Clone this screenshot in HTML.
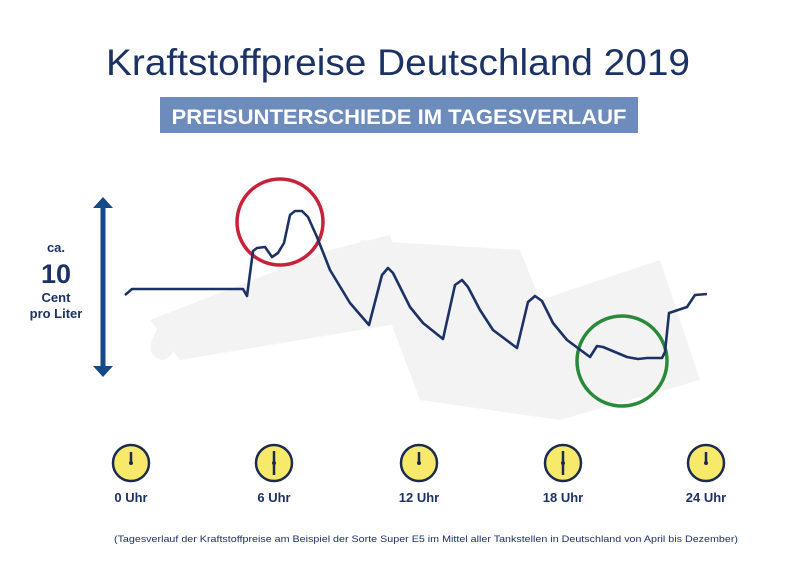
<!DOCTYPE html>
<html><head><meta charset="utf-8"><style>
html,body{margin:0;padding:0;background:#fff;}
svg{display:block;font-family:"Liberation Sans",sans-serif;}
</style></head><body>
<svg width="800" height="566" viewBox="0 0 800 566">
<rect width="800" height="566" fill="#fff"/>
<!-- watermark -->
<g fill="#f3f3f4">
<path d="M150,320 L330,250 L390,235 L420,320 L180,360 Z"/>
<path d="M360,240 L520,250 L540,300 L660,260 L700,380 L560,420 L420,400 Z"/>
<path d="M160,325 Q140,355 162,360 Q185,355 160,325 Z"/>
</g>
<text x="398" y="75" text-anchor="middle" font-size="37" fill="#1c3264" textLength="584" lengthAdjust="spacingAndGlyphs">Kraftstoffpreise Deutschland 2019</text>
<rect x="160" y="97" width="478" height="36" fill="#6d8bbb"/>
<text x="399" y="124" text-anchor="middle" font-size="21" font-weight="bold" fill="#fff" textLength="455" lengthAdjust="spacingAndGlyphs">PREISUNTERSCHIEDE IM TAGESVERLAUF</text>
<!-- arrow -->
<line x1="103" y1="206" x2="103" y2="368" stroke="#144a86" stroke-width="5"/>
<path d="M93,208 L103,197 L113,208 Z M93,366 L103,377 L113,366 Z" fill="#144a86"/>
<g fill="#1c3264" font-weight="bold" text-anchor="middle">
<text x="56" y="252" font-size="13">ca.</text>
<text x="56" y="283" font-size="27">10</text>
<text x="56" y="302" font-size="13">Cent</text>
<text x="56" y="318" font-size="13">pro Liter</text>
</g>
<!-- circles -->
<circle cx="280" cy="222" r="43" fill="none" stroke="#c8213a" stroke-width="3.5"/>
<circle cx="622" cy="361" r="45" fill="none" stroke="#2a8a3a" stroke-width="3.5"/>
<!-- line -->
<polyline fill="none" stroke="#1c3264" stroke-width="2.6" stroke-linejoin="round" points="125,295 132,289 243,289 247,296 253,251 257,248 265,247 272,257 278,253 284,243 290,215 295,211 302,211 308,217 317,237 330,270 350,303 369,325 382,275 388,268 393,273 410,307 423,323 443,339 455,285 462,280 468,287 480,310 493,330 517,348 528,302 535,296 542,301 553,323 567,340 590,357 597,346 603,347 627,357 638,359 647,358 662,358 665,352 669,313 687,307 695,295 707,294"/>
<!-- clocks -->
<g transform="translate(131,463)"><circle r="18" fill="#f7e96a" stroke="#1c2a50" stroke-width="2.5"/><line x1="0" y1="0" x2="0" y2="-11" stroke="#1c2a50" stroke-width="2.5"/><circle r="2" fill="#1c2a50"/></g>
<g transform="translate(274,463)"><circle r="18" fill="#f7e96a" stroke="#1c2a50" stroke-width="2.5"/><line x1="0" y1="-12" x2="0" y2="12" stroke="#1c2a50" stroke-width="2.5"/><circle r="2" fill="#1c2a50"/></g>
<g transform="translate(419,463)"><circle r="18" fill="#f7e96a" stroke="#1c2a50" stroke-width="2.5"/><line x1="0" y1="0" x2="0" y2="-11" stroke="#1c2a50" stroke-width="2.5"/><circle r="2" fill="#1c2a50"/></g>
<g transform="translate(563,463)"><circle r="18" fill="#f7e96a" stroke="#1c2a50" stroke-width="2.5"/><line x1="0" y1="-12" x2="0" y2="12" stroke="#1c2a50" stroke-width="2.5"/><circle r="2" fill="#1c2a50"/></g>
<g transform="translate(706,463)"><circle r="18" fill="#f7e96a" stroke="#1c2a50" stroke-width="2.5"/><line x1="0" y1="0" x2="0" y2="-11" stroke="#1c2a50" stroke-width="2.5"/><circle r="2" fill="#1c2a50"/></g>
<g fill="#1c3264" font-weight="bold" font-size="13" text-anchor="middle">
<text x="131" y="502">0 Uhr</text>
<text x="274" y="502">6 Uhr</text>
<text x="419" y="502">12 Uhr</text>
<text x="563" y="502">18 Uhr</text>
<text x="706" y="502">24 Uhr</text>
</g>
<text x="426" y="542" text-anchor="middle" font-size="9.5" fill="#1c3264" textLength="624" lengthAdjust="spacingAndGlyphs">(Tagesverlauf der Kraftstoffpreise am Beispiel der Sorte Super E5 im Mittel aller Tankstellen in Deutschland von April bis Dezember)</text>
</svg>
</body></html>
